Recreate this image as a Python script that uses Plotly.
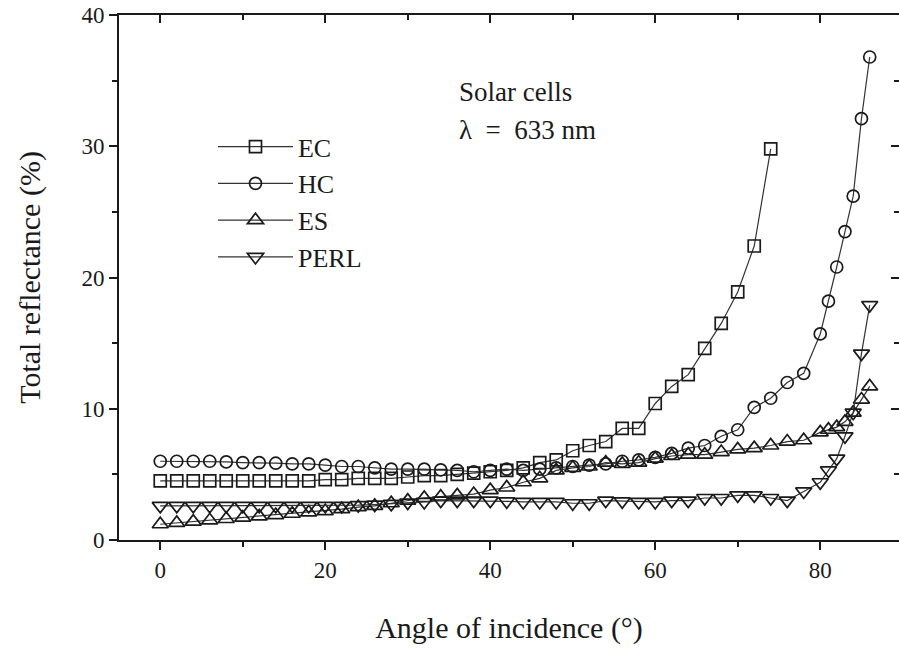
import plotly.graph_objects as go

# ---- data ----
angles_ec = list(range(0, 75, 2))
angles_long = list(range(0, 81, 2)) + [81, 82, 83, 84, 85, 86]

ec = [4.5, 4.5, 4.5, 4.5, 4.5, 4.5, 4.5, 4.5, 4.5, 4.5,
      4.6, 4.6, 4.7, 4.7, 4.7, 4.8, 4.9, 4.9, 5.0, 5.1,
      5.2, 5.3, 5.5, 5.9, 6.1, 6.8, 7.2, 7.5, 8.5, 8.5,
      10.4, 11.7, 12.6, 14.6, 16.5, 18.9, 22.4, 29.8]

hc = [6.0, 6.0, 6.0, 6.0, 5.95, 5.9, 5.9, 5.85, 5.8, 5.8,
      5.7, 5.6, 5.6, 5.5, 5.4, 5.4, 5.4, 5.35, 5.3, 5.2,
      5.3, 5.4, 5.3, 5.4, 5.5, 5.6, 5.7, 5.8, 6.0, 6.1,
      6.3, 6.6, 7.0, 7.2, 7.9, 8.4, 10.1, 10.8, 12.0, 12.7,
      15.7,
      18.2, 20.8, 23.5, 26.2, 32.1, 36.8]

es = [1.2, 1.3, 1.4, 1.5, 1.6, 1.7, 1.8, 1.9, 2.0, 2.1,
      2.2, 2.35, 2.5, 2.6, 2.8, 3.0, 3.2, 3.3, 3.4, 3.5,
      3.8, 4.0, 4.4, 4.7, 5.3, 5.5, 5.6, 5.9, 5.8, 5.9,
      6.2, 6.4, 6.5, 6.5, 6.7, 6.9, 7.0, 7.2, 7.5, 7.6,
      8.2,
      8.4, 8.6, 9.0, 9.7, 10.7, 11.7]

perl = [2.6, 2.6, 2.6, 2.6, 2.6, 2.6, 2.6, 2.6, 2.6, 2.6,
        2.6, 2.6, 2.65, 2.7, 2.75, 2.85, 2.9, 3.0, 3.0, 3.0,
        3.0, 2.95, 2.9, 2.9, 2.9, 2.8, 2.8, 3.0, 2.95, 2.9,
        2.9, 3.0, 3.0, 3.2, 3.2, 3.4, 3.4, 3.2, 3.0, 3.7,
        4.4,
        5.3, 6.2, 7.9, 9.7, 14.2, 17.9]

series_names = ["EC", "HC", "ES", "PERL"]
series_x = [angles_ec, angles_long, angles_long, angles_long]
series_y = [ec, hc, es, perl]
symbols = ["square-open", "circle-open", "triangle-up-open", "triangle-down-open"]
sizes = [12, 12, 14, 14]

x_ticks = [0, 20, 40, 60, 80]
y_ticks = [0, 10, 20, 30, 40]

FONT = "Liberation Serif"
INK = "#1a1a1a"

fig = go.Figure()
for name, xs, ys, sym, sz in zip(series_names, series_x, series_y, symbols, sizes):
    fig.add_trace(go.Scatter(
        x=xs, y=ys, name=name, mode="lines+markers", legendgroup=name,
        line=dict(color="#333333", width=1.2),
        marker=dict(symbol=sym, size=sz, color=INK, line=dict(width=1.7, color=INK)),
    ))

# helper empty trace for mirrored axes (top / right)
fig.add_trace(go.Scatter(x=[], y=[], xaxis="x2", yaxis="y2", showlegend=False, hoverinfo="skip"))

XR = [-5, 89.55]
YR = [0, 40]

fig.update_layout(
    width=899, height=650,
    margin=dict(l=119, r=0, t=15, b=110),
    paper_bgcolor="white", plot_bgcolor="white",
    font=dict(family=FONT, color=INK, size=23),
    showlegend=True,
    legend=dict(
        x=0.1205, y=0.794, xanchor="left", yanchor="top",
        bgcolor="rgba(0,0,0,0)", font=dict(family=FONT, size=26, color=INK),
        tracegroupgap=0, itemwidth=75,
    ),
    xaxis=dict(
        range=XR, tickvals=x_ticks, ticks="outside", ticklen=8, tickwidth=2,
        tickcolor=INK, showline=True, linewidth=2, linecolor=INK,
        showgrid=False, zeroline=False,
        minor=dict(dtick=10, tick0=0, ticks="outside", ticklen=5, tickwidth=2, tickcolor=INK),
        title=dict(text="Angle of incidence (°)", font=dict(family=FONT, size=30), standoff=35),
        tickfont=dict(family=FONT, size=23),
    ),
    yaxis=dict(
        range=YR, tickvals=y_ticks, ticks="outside", ticklen=8, tickwidth=2,
        tickcolor=INK, showline=True, linewidth=2, linecolor=INK,
        showgrid=False, zeroline=False,
        minor=dict(dtick=5, tick0=0, ticks="outside", ticklen=5, tickwidth=2, tickcolor=INK),
        title=dict(text="Total reflectance (%)", font=dict(family=FONT, size=30), standoff=32),
        tickfont=dict(family=FONT, size=23),
    ),
    xaxis2=dict(
        range=XR, overlaying="x", side="top", anchor="y2", tickvals=x_ticks,
        ticks="inside", ticklen=8, tickwidth=2, tickcolor=INK,
        showline=True, linewidth=2, linecolor=INK, showticklabels=False,
        showgrid=False, zeroline=False,
        minor=dict(dtick=10, tick0=0, ticks="inside", ticklen=5, tickwidth=2, tickcolor=INK),
    ),
    yaxis2=dict(
        range=YR, overlaying="y", side="right", anchor="x2", tickvals=y_ticks,
        ticks="inside", ticklen=8, tickwidth=2, tickcolor=INK,
        showline=False, showticklabels=False, showgrid=False, zeroline=False,
        minor=dict(dtick=5, tick0=0, ticks="inside", ticklen=5, tickwidth=2, tickcolor=INK),
    ),
    annotations=[
        dict(text="Solar cells", xref="paper", yref="paper", x=0.433, y=0.853,
             xanchor="left", yanchor="middle", showarrow=False,
             font=dict(family=FONT, size=27, color=INK)),
        dict(text="λ  =  633 nm", xref="paper", yref="paper", x=0.433, y=0.781,
             xanchor="left", yanchor="middle", showarrow=False,
             font=dict(family=FONT, size=27, color=INK)),
    ],
)

fig.write_html("out.html")
